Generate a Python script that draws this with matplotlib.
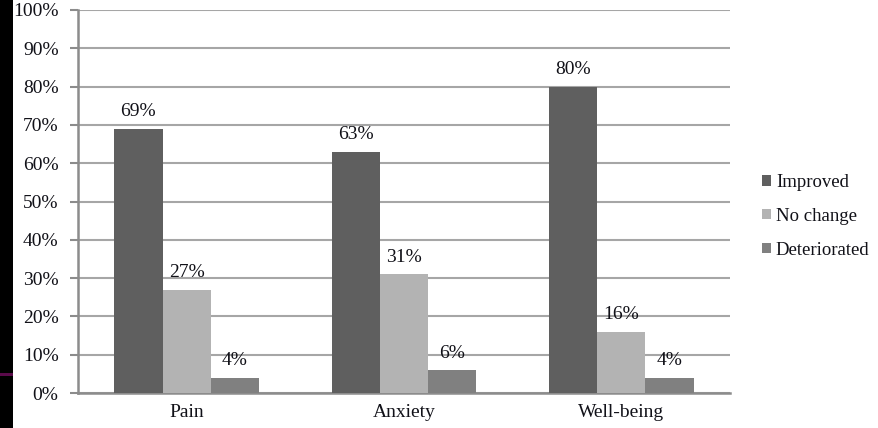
import matplotlib
matplotlib.use("Agg")
import matplotlib.pyplot as plt
from matplotlib.patches import Rectangle
import numpy as np

categories = ["Pain", "Anxiety", "Well-being"]
series_names = ["Improved", "No change", "Deteriorated"]
improved = [69, 63, 80]
no_change = [27, 31, 16]
deteriorated = [4, 6, 4]
colors = ["#5f5f5f", "#b3b3b3", "#808080"]
yticks = [0, 10, 20, 30, 40, 50, 60, 70, 80, 90, 100]

plt.rcParams['font.family'] = ['Liberation Serif', 'DejaVu Serif']
fig = plt.figure(figsize=(8.79, 4.28), dpi=100)
fig.patch.set_facecolor("white")
fig.patches.append(Rectangle((0, 0), 13/879, 1, transform=fig.transFigure,
                             facecolor="black", edgecolor="none", zorder=0))
fig.patches.append(Rectangle((0, 52/428), 13/879, 3/428, transform=fig.transFigure,
                             facecolor="#5a0a4a", edgecolor="none", zorder=1))

ax = fig.add_axes([78/879, 35/428, 652/879, 383/428])
x = np.arange(len(categories))
w = 0.222
text_color = "#111118"
fs = 14
for i, (name, vals) in enumerate(zip(series_names, [improved, no_change, deteriorated])):
    pos = x + (i - 1) * w
    ax.bar(pos, vals, width=w, color=colors[i], label=name, zorder=3)
    for p, v in zip(pos, vals):
        ax.text(p, v + 2.2, f"{v}%", ha="center", va="bottom", fontsize=fs, color=text_color)

ax.set_xlim(-0.5, 2.5)
ax.set_ylim(0, 100)
ax.set_yticks(yticks)
ax.set_yticklabels([f"{t}%" for t in yticks], fontsize=fs, color=text_color)
ax.set_xticks(x)
ax.set_xticklabels(categories, fontsize=fs, color=text_color)
ax.grid(axis="y", color="#a6a6a6", linewidth=1.5, zorder=0)
ax.set_axisbelow(True)
for s in ["top", "right"]:
    ax.spines[s].set_visible(False)
ax.spines["left"].set_color("#8c8c8c")
ax.spines["left"].set_linewidth(1.8)
ax.spines["bottom"].set_color("#8c8c8c")
ax.spines["bottom"].set_linewidth(1.8)
ax.tick_params(axis="y", length=6, width=1.5, color="#8c8c8c", pad=8)
ax.tick_params(axis="x", length=0, pad=8)

leg = fig.legend(loc="upper left", bbox_to_anchor=(745/879, 1 - 157/428), frameon=False,
                 fontsize=13.5, handlelength=0.5, handleheight=0.5, handletextpad=0.25,
                 labelspacing=0.9, labelcolor=text_color)

fig.savefig("out.png", dpi=100)
